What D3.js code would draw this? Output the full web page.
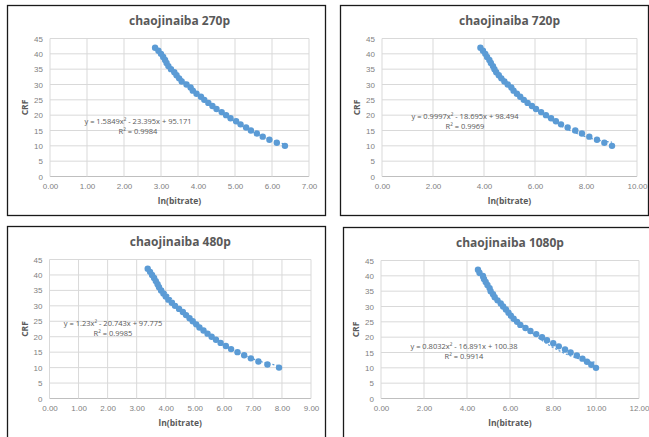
<!DOCTYPE html>
<html>
<head>
<meta charset="utf-8">
<script src="https://cdn.jsdelivr.net/npm/d3@7"></script>
<style>
  body { margin: 0; background: #fff; }
  svg { font-family: 'Open Sans', 'Liberation Sans', sans-serif; }
</style>
</head>
<body>
<svg id="chart" width="649" height="437"></svg>
<script>
// CRF values used in every panel (y axis)
const crfValues = [42, 41, 40, 39, 38, 37, 36, 35, 34, 33, 32, 31, 30, 29, 28, 27, 26,
  25, 24, 23, 22, 21, 20, 19, 18, 17, 16, 15, 14, 13, 12, 11, 10]

// ln(bitrate), same order as crfValues
const lnBitrate270 = [2.84, 2.93, 3.00, 3.06, 3.11, 3.15, 3.20, 3.27, 3.36, 3.42, 3.49, 3.56, 3.69,
  3.80, 3.86, 3.96, 4.08, 4.17, 4.28, 4.39, 4.50, 4.64, 4.76, 4.88, 5.03, 5.15, 5.30, 5.43,
  5.59, 5.75, 5.93, 6.13, 6.35]
const lnBitrate720 = [3.86, 3.96, 4.05, 4.12, 4.21, 4.27, 4.35, 4.41, 4.48, 4.58, 4.68, 4.80, 4.93,
  5.07, 5.16, 5.29, 5.42, 5.56, 5.71, 5.88, 6.04, 6.24, 6.43, 6.63, 6.82, 7.02, 7.28, 7.58,
  7.84, 8.13, 8.43, 8.72, 9.02]
const lnBitrate480 = [3.38, 3.46, 3.53, 3.60, 3.66, 3.72, 3.77, 3.84, 3.92, 4.00, 4.09, 4.21, 4.32,
  4.46, 4.59, 4.70, 4.82, 4.93, 5.05, 5.16, 5.30, 5.44, 5.58, 5.73, 5.89, 6.07, 6.25, 6.47,
  6.70, 6.93, 7.19, 7.50, 7.90]
const lnBitrate1080 = [4.51, 4.58, 4.74, 4.79, 4.87, 4.95, 5.05, 5.10, 5.21, 5.29, 5.42, 5.57, 5.68,
  5.81, 5.93, 6.04, 6.17, 6.33, 6.48, 6.72, 6.95, 7.22, 7.49, 7.72, 8.01, 8.27, 8.56, 8.82,
  9.11, 9.37, 9.58, 9.78, 10.00]

const titles = ['chaojinaiba 270p', 'chaojinaiba 720p', 'chaojinaiba 480p', 'chaojinaiba 1080p']
const xMaxes = [7, 10, 9, 12]
const xSteps = [1, 2, 1, 2]
const yTicks = [0, 5, 10, 15, 20, 25, 30, 35, 40, 45]
// polynomial trendline coefficients [a, b, c] for y = ax^2 + bx + c
const trendCoefs = [[1.5849, -23.395, 95.171], [0.9997, -18.695, 98.494],
  [1.23, -20.743, 97.775], [0.8032, -16.891, 100.38]]
const equationLabels = ['y = 1.5849x² - 23.395x + 95.171', 'y = 0.9997x² - 18.695x + 98.494',
  'y = 1.23x² - 20.743x + 97.775', 'y = 0.8032x² - 16.891x + 100.38']
const r2Labels = ['R² = 0.9984', 'R² = 0.9969', 'R² = 0.9985', 'R² = 0.9914']

const seriesList = [lnBitrate270, lnBitrate720, lnBitrate480, lnBitrate1080]

// panel frames and plot areas (page coordinates)
const panels = [
  { box: [7.5, 5.5, 318, 210], plot: [50, 38.5, 309, 176.5], eq: [138, 124] },
  { box: [340.5, 5.5, 308, 210], plot: [382, 38.5, 637, 176.5], eq: [465, 119] },
  { box: [7.5, 226.5, 318, 215], plot: [49.5, 259.5, 311, 398.5], eq: [113, 326] },
  { box: [343.5, 227.5, 310, 215], plot: [381, 260.5, 639, 398.5], eq: [464, 349] }
]

const svg = d3.select('#chart')
const grey = '#595959'
const tickGrey = '#7f7f7f'

panels.forEach((p, i) => {
  const g = svg.append('g')
  g.append('rect')
    .attr('x', p.box[0]).attr('y', p.box[1])
    .attr('width', p.box[2]).attr('height', p.box[3])
    .attr('fill', '#fff').attr('stroke', '#1a1a1a').attr('stroke-width', 1.3)

  const [x0, y0, x1, y1] = p.plot
  const xScale = d3.scaleLinear().domain([0, xMaxes[i]]).range([x0, x1])
  const yScale = d3.scaleLinear().domain([0, 45]).range([y1, y0])
  const xTicks = d3.range(0, xMaxes[i] + 0.001, xSteps[i])

  // gridlines
  g.selectAll('.hgrid').data(yTicks).enter().append('line')
    .attr('x1', x0).attr('x2', x1)
    .attr('y1', d => yScale(d)).attr('y2', d => yScale(d))
    .attr('stroke', d => d === 0 ? '#bfbfbf' : '#d9d9d9').attr('stroke-width', 1)
  g.selectAll('.vgrid').data(xTicks).enter().append('line')
    .attr('x1', d => xScale(d)).attr('x2', d => xScale(d))
    .attr('y1', y0).attr('y2', y1)
    .attr('stroke', '#d9d9d9').attr('stroke-width', 1)

  // axes labels via d3 axes, lines hidden
  const xAxis = g.append('g').attr('transform', `translate(0,${y1})`)
    .call(d3.axisBottom(xScale).tickValues(xTicks).tickFormat(d3.format('.2f')).tickSize(0).tickPadding(7))
  const yAxis = g.append('g').attr('transform', `translate(${x0},0)`)
    .call(d3.axisLeft(yScale).tickValues(yTicks).tickSize(0).tickPadding(7))
  ;[xAxis, yAxis].forEach(a => {
    a.select('.domain').remove()
    a.selectAll('text').attr('fill', tickGrey).style('font-size', '8px')
  })

  // trendline
  const [a, b, c] = trendCoefs[i]
  const xs = seriesList[i]
  const lo = d3.min(xs)
  const hi = d3.max(xs)
  const steps = d3.range(0, 61).map(k => lo + (hi - lo) * k / 60)
  g.append('path')
    .datum(steps)
    .attr('fill', 'none')
    .attr('stroke', '#5b9bd5').attr('stroke-width', 1.2)
    .attr('stroke-dasharray', '2,2')
    .attr('d', d3.line().x(d => xScale(d)).y(d => yScale(a * d * d + b * d + c)))

  // points
  g.selectAll('circle').data(crfValues).enter().append('circle')
    .attr('cx', (d, k) => xScale(xs[k]))
    .attr('cy', d => yScale(d))
    .attr('r', 3.2)
    .attr('fill', '#5b9bd5')

  // equation and R2
  g.append('text').attr('x', p.eq[0]).attr('y', p.eq[1])
    .attr('text-anchor', 'middle').attr('fill', grey).style('font-size', '7.5px')
    .text(equationLabels[i])
  g.append('text').attr('x', p.eq[0]).attr('y', p.eq[1] + 10)
    .attr('text-anchor', 'middle').attr('fill', grey).style('font-size', '7.5px')
    .text(r2Labels[i])

  // title and axis titles
  const cx = (x0 + x1) / 2
  g.append('text').attr('x', cx).attr('y', p.box[1] + 19)
    .attr('text-anchor', 'middle').attr('fill', grey)
    .style('font-size', '12px').style('font-weight', 'bold')
    .text(titles[i])
  g.append('text').attr('x', cx).attr('y', y1 + 27)
    .attr('text-anchor', 'middle').attr('fill', grey)
    .style('font-size', '8.5px').style('font-weight', 'bold')
    .text('ln(bitrate)')
  g.append('text')
    .attr('transform', `translate(${x0 - 22},${(y0 + y1) / 2}) rotate(-90)`)
    .attr('text-anchor', 'middle').attr('fill', grey)
    .style('font-size', '8.5px').style('font-weight', 'bold')
    .text('CRF')
})
</script>
</body>
</html>
